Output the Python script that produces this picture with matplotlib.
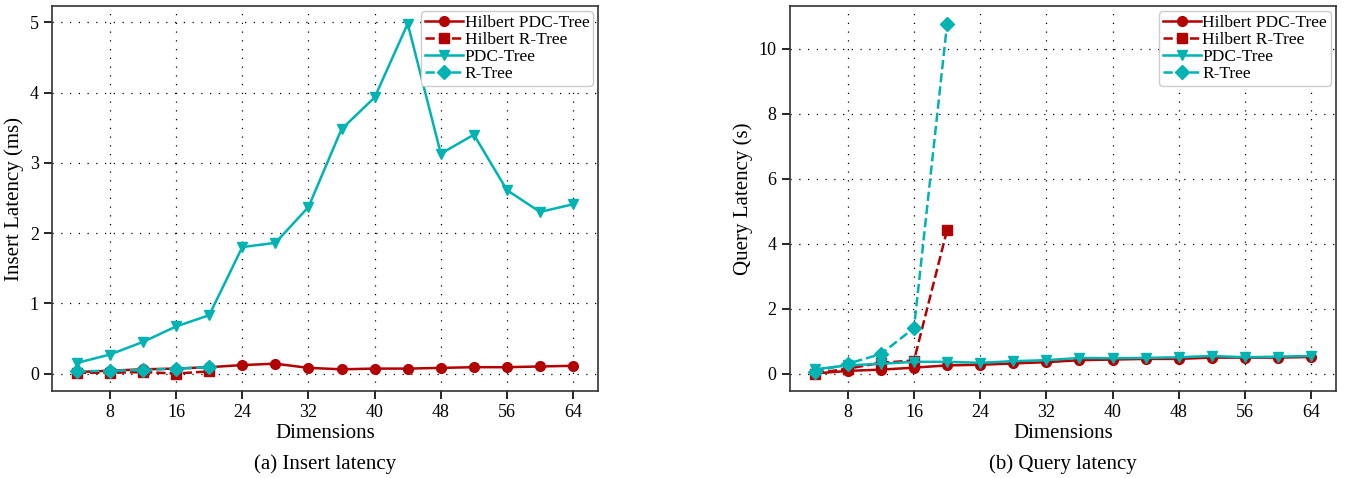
import matplotlib
matplotlib.use("Agg")
import matplotlib.pyplot as plt

# ======================
# DATA
# ======================
dims = [4, 8, 12, 16, 20, 24, 28, 32, 36, 40, 44, 48, 52, 56, 60, 64]
dims_short = [4, 8, 12, 16, 20]

# insert latency (ms)
ins_hpdc = [0.02, 0.04, 0.06, 0.07, 0.09, 0.12, 0.14, 0.08, 0.06, 0.07, 0.07, 0.08, 0.09, 0.09, 0.10, 0.11]
ins_hr = [0.01, 0.01, 0.02, 0.00, 0.03]
ins_pdc = [0.15, 0.27, 0.45, 0.67, 0.83, 1.80, 1.86, 2.37, 3.48, 3.93, 4.98, 3.13, 3.40, 2.61, 2.30, 2.41]
ins_r = [0.03, 0.04, 0.05, 0.07, 0.09]

# query latency (s)
q_hpdc = [0.00, 0.08, 0.12, 0.18, 0.25, 0.27, 0.31, 0.35, 0.41, 0.43, 0.45, 0.45, 0.49, 0.49, 0.49, 0.51]
q_hr = [0.00, 0.15, 0.33, 0.40, 4.42]
q_pdc = [0.13, 0.25, 0.30, 0.36, 0.36, 0.33, 0.38, 0.41, 0.48, 0.47, 0.48, 0.50, 0.54, 0.50, 0.52, 0.54]
q_r = [0.05, 0.30, 0.60, 1.40, 10.77]

xticks = [8, 16, 24, 32, 40, 48, 56, 64]

RED = "#b30000"
TEAL = "#00b3b3"

plt.rcParams["font.family"] = ["Liberation Serif", "DejaVu Serif"]
plt.rcParams["font.size"] = 13

fig = plt.figure(figsize=(13.48, 4.78), dpi=100)
ax1 = fig.add_axes([0.0386, 0.182, 0.405, 0.805])
ax2 = fig.add_axes([0.586, 0.182, 0.405, 0.805])


def draw(ax, hpdc, hr, pdc, r, ylabel, caption):
    kw = dict(lw=1.8, ms=7)
    ax.plot(dims, hpdc, color=RED, ls="-", marker="o", label="Hilbert PDC-Tree", **kw)
    ax.plot(dims_short, hr, color=RED, ls="--", marker="s", label="Hilbert R-Tree", **kw)
    ax.plot(dims, pdc, color=TEAL, ls="-", marker="v", label="PDC-Tree", **kw)
    ax.plot(dims_short, r, color=TEAL, ls="--", marker="D", label="R-Tree", **kw)

    ax.set_xticks(xticks)
    ax.tick_params(direction="out", length=6, width=1.2, labelsize=13)
    ax.grid(True, ls=(0, (1, 6)), color="black", lw=0.9)
    for s in ax.spines.values():
        s.set_linewidth(1.2)
        s.set_color("#333333")

    ax.set_xlabel("Dimensions", fontsize=15, labelpad=2)
    ax.set_ylabel(ylabel, fontsize=15)
    # sub-caption below the axis label
    bb = ax.get_position()
    fig.text(bb.x0 + bb.width / 2, 0.029, caption, ha="center", va="center", fontsize=15)

    ax.legend(loc="upper right", fontsize=12.5, handlelength=2.2, handletextpad=0.1,
              labelspacing=0.05, borderpad=0.2, borderaxespad=0.3, framealpha=1,
              edgecolor="#cccccc")


draw(ax1, ins_hpdc, ins_hr, ins_pdc, ins_r, "Insert Latency (ms)", "(a) Insert latency")
draw(ax2, q_hpdc, q_hr, q_pdc, q_r, "Query Latency (s)", "(b) Query latency")

fig.savefig("out.png", dpi=100)
